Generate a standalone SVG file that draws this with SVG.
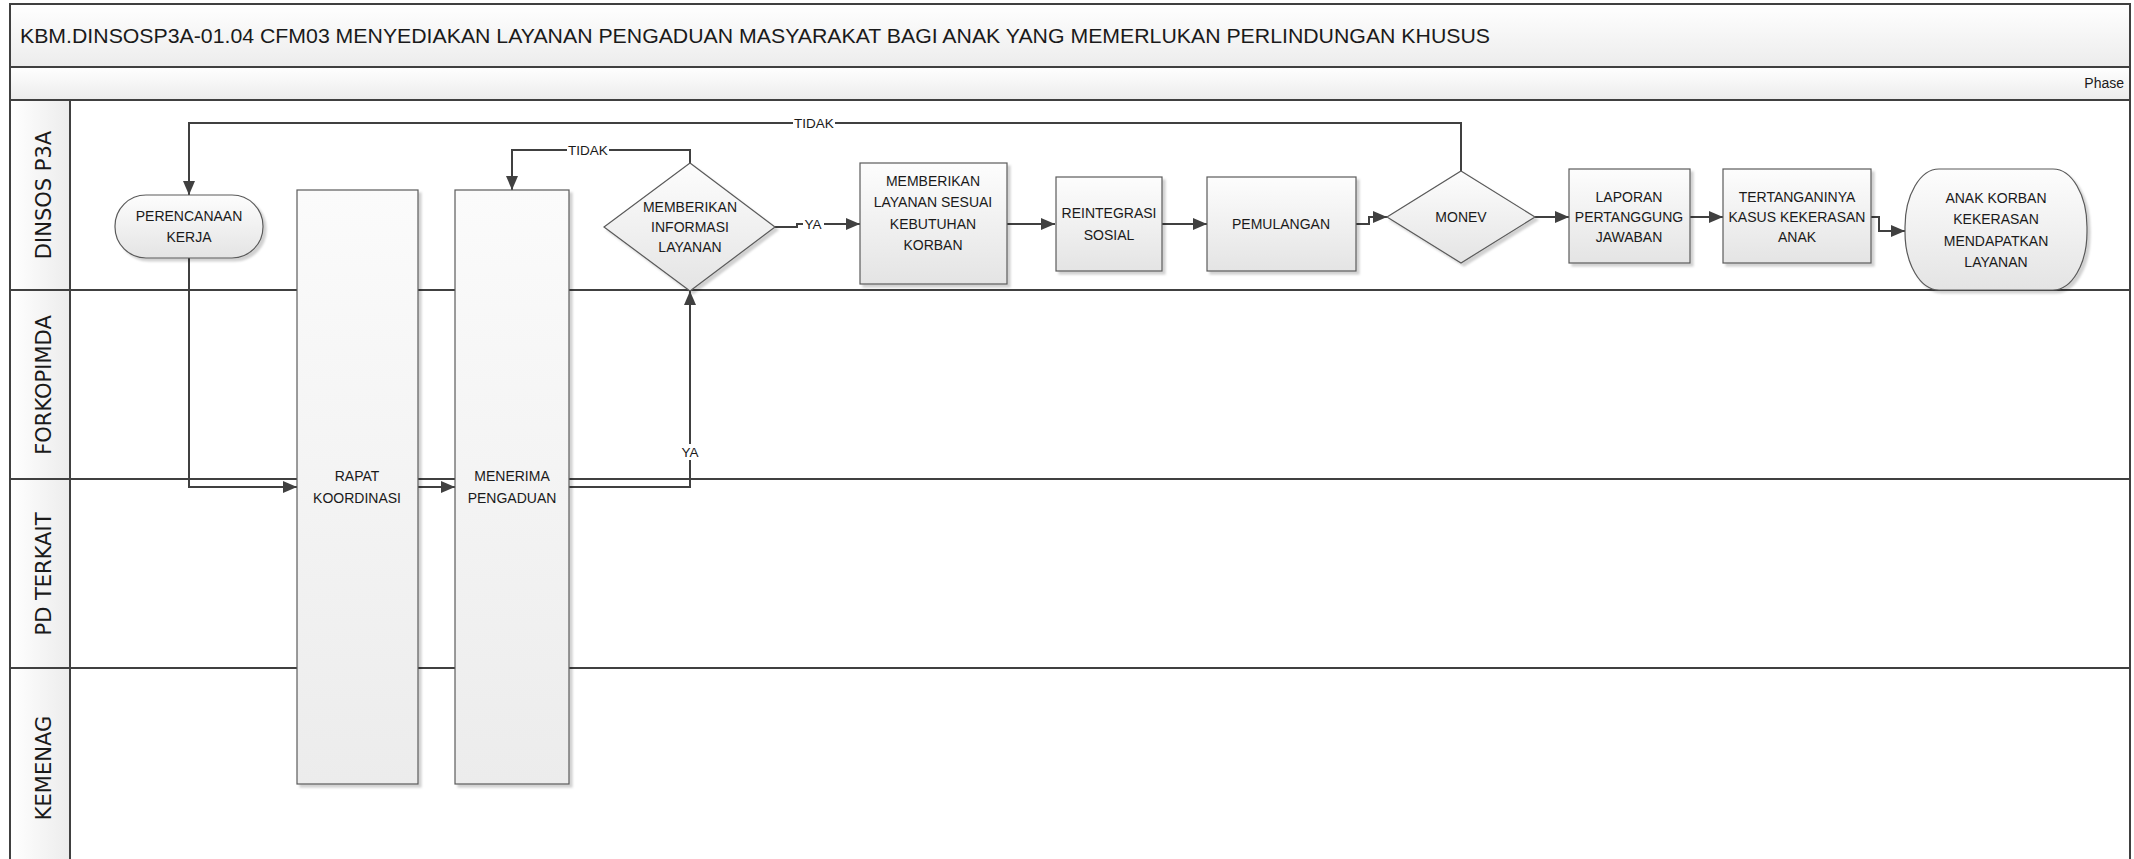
<svg xmlns="http://www.w3.org/2000/svg" width="2134" height="859" viewBox="0 0 2134 859">
<style>
.node{fill:url(#ng);stroke:#5a5a5a;stroke-width:1.2;filter:url(#sh)}
.tall{fill:url(#tg);stroke:#5a5a5a;stroke-width:1.2;filter:url(#sh)}
.t{font-family:"Liberation Sans",Arial,sans-serif;font-size:14px;fill:#1a1a1a;text-anchor:middle}
.lbl{font-family:"Liberation Sans",Arial,sans-serif;font-size:13.5px;fill:#1a1a1a;text-anchor:middle}
.lane{font-family:"DejaVu Sans",Verdana,sans-serif;font-size:21px;fill:#1a1a1a;text-anchor:middle}
.conn{fill:none;stroke:#404040;stroke-width:2;marker-end:url(#arr)}
.sep{stroke:#404040;stroke-width:2}
</style>
<defs>
<linearGradient id="ng" x1="0" y1="0" x2="0" y2="1"><stop offset="0" stop-color="#fdfdfd"/><stop offset="1" stop-color="#e4e4e4"/></linearGradient>
<linearGradient id="tg" x1="0" y1="0" x2="0" y2="1"><stop offset="0" stop-color="#fbfbfb"/><stop offset="1" stop-color="#ececec"/></linearGradient>
<linearGradient id="hg" x1="0" y1="0" x2="0" y2="1"><stop offset="0" stop-color="#ffffff"/><stop offset="1" stop-color="#ececec"/></linearGradient>
<linearGradient id="lg" x1="0" y1="0" x2="1" y2="0"><stop offset="0" stop-color="#ffffff"/><stop offset="1" stop-color="#ececec"/></linearGradient>
<filter id="sh" x="-10%" y="-10%" width="130%" height="130%"><feDropShadow dx="3" dy="3" stdDeviation="1.2" flood-color="#000" flood-opacity="0.18"/></filter>
<marker id="arr" markerUnits="userSpaceOnUse" markerWidth="14" markerHeight="12" refX="14" refY="6" orient="auto"><path d="M0,0 L14,6 L0,12 z" fill="#404040"/></marker>
</defs>

<g id="frame">
<rect x="10" y="4" width="2120" height="63" fill="url(#hg)" stroke="#404040" stroke-width="2"/>
<rect x="10" y="67" width="2120" height="33" fill="url(#hg)" stroke="#404040" stroke-width="2"/>
<rect x="10" y="100" width="2120" height="762" fill="#ffffff" stroke="#404040" stroke-width="2"/>
<rect x="10" y="100" width="60" height="762" fill="url(#lg)" stroke="#404040" stroke-width="2"/>
<line class="sep" x1="10" y1="290" x2="2130" y2="290"/>
<line class="sep" x1="10" y1="479" x2="2130" y2="479"/>
<line class="sep" x1="10" y1="668" x2="2130" y2="668"/>
<text x="20" y="43" font-family="Liberation Sans,Arial,sans-serif" font-size="21" fill="#1a1a1a" textLength="1470" lengthAdjust="spacingAndGlyphs">KBM.DINSOSP3A-01.04 CFM03 MENYEDIAKAN LAYANAN PENGADUAN MASYARAKAT BAGI ANAK YANG MEMERLUKAN PERLINDUNGAN KHUSUS</text>
<text x="2124" y="88" font-family="Liberation Sans,Arial,sans-serif" font-size="14" fill="#1a1a1a" text-anchor="end">Phase</text>
</g>

<g id="lanes">
<text class="lane" transform="translate(51,195) rotate(-90)">DINSOS P3A</text>
<text class="lane" transform="translate(51,385) rotate(-90)">FORKOPIMDA</text>
<text class="lane" transform="translate(51,574) rotate(-90)">PD TERKAIT</text>
<text class="lane" transform="translate(51,768) rotate(-90)">KEMENAG</text>
</g>

<g id="connectors">
<path class="conn" d="M189,258 V487 H297"/>
<path class="conn" d="M418,487 H455"/>
<path class="conn" d="M569,487 H690 V291"/>
<rect x="678" y="444" width="24" height="16" fill="#fff"/>
<text class="lbl" x="690" y="457">YA</text>
<path class="conn" d="M690,163 V150 H512 V190"/>
<rect x="567" y="142" width="42" height="16" fill="#fff"/>
<text class="lbl" x="588" y="155">TIDAK</text>
<path class="conn" d="M775,227 H797 V224 H860"/>
<rect x="803" y="216" width="21" height="16" fill="#fff"/>
<text class="lbl" x="813" y="229">YA</text>
<path class="conn" d="M1007,224 H1055"/>
<path class="conn" d="M1162,224 H1207"/>
<path class="conn" d="M1356,224 H1369 V217 H1387"/>
<path class="conn" d="M1461,171 V123 H189 V195"/>
<rect x="793" y="115" width="42" height="16" fill="#fff"/>
<text class="lbl" x="814" y="128">TIDAK</text>
<path class="conn" d="M1535,217 H1569"/>
<path class="conn" d="M1690,217 H1723"/>
<path class="conn" d="M1871,217 H1879 V231 H1905"/>
</g>

<g id="n1">
<rect class="node" x="115" y="195" width="148" height="63" rx="31" ry="31"/>
<text class="t" x="189" y="221">PERENCANAAN</text>
<text class="t" x="189" y="242">KERJA</text>
</g>
<g id="n2">
<rect class="tall" x="297" y="190" width="121" height="594"/>
<text class="t" x="357" y="481">RAPAT</text>
<text class="t" x="357" y="503">KOORDINASI</text>
</g>
<g id="n3">
<rect class="tall" x="455" y="190" width="114" height="594"/>
<text class="t" x="512" y="481">MENERIMA</text>
<text class="t" x="512" y="503">PENGADUAN</text>
</g>
<g id="n4">
<polygon class="node" points="690,163 775,227 690,291 604,227"/>
<text class="t" x="690" y="212">MEMBERIKAN</text>
<text class="t" x="690" y="232">INFORMASI</text>
<text class="t" x="690" y="252">LAYANAN</text>
</g>
<g id="n5">
<rect class="node" x="860" y="163" width="147" height="121"/>
<text class="t" x="933" y="186">MEMBERIKAN</text>
<text class="t" x="933" y="207">LAYANAN SESUAI</text>
<text class="t" x="933" y="229">KEBUTUHAN</text>
<text class="t" x="933" y="250">KORBAN</text>
</g>
<g id="n6">
<rect class="node" x="1056" y="177" width="106" height="94"/>
<text class="t" x="1109" y="218">REINTEGRASI</text>
<text class="t" x="1109" y="240">SOSIAL</text>
</g>
<g id="n7">
<rect class="node" x="1207" y="177" width="149" height="94"/>
<text class="t" x="1281" y="229">PEMULANGAN</text>
</g>
<g id="n8">
<polygon class="node" points="1461,171 1535,217 1461,263 1387,217"/>
<text class="t" x="1461" y="222">MONEV</text>
</g>
<g id="n9">
<rect class="node" x="1569" y="169" width="121" height="94"/>
<text class="t" x="1629" y="202">LAPORAN</text>
<text class="t" x="1629" y="222">PERTANGGUNG</text>
<text class="t" x="1629" y="242">JAWABAN</text>
</g>
<g id="n10">
<rect class="node" x="1723" y="169" width="148" height="94"/>
<text class="t" x="1797" y="202">TERTANGANINYA</text>
<text class="t" x="1797" y="222">KASUS KEKERASAN</text>
<text class="t" x="1797" y="242">ANAK</text>
</g>
<g id="n11">
<rect class="node" x="1905" y="169" width="182" height="121" rx="34" ry="58"/>
<text class="t" x="1996" y="203">ANAK KORBAN</text>
<text class="t" x="1996" y="224">KEKERASAN</text>
<text class="t" x="1996" y="246">MENDAPATKAN</text>
<text class="t" x="1996" y="267">LAYANAN</text>
</g>
</svg>
